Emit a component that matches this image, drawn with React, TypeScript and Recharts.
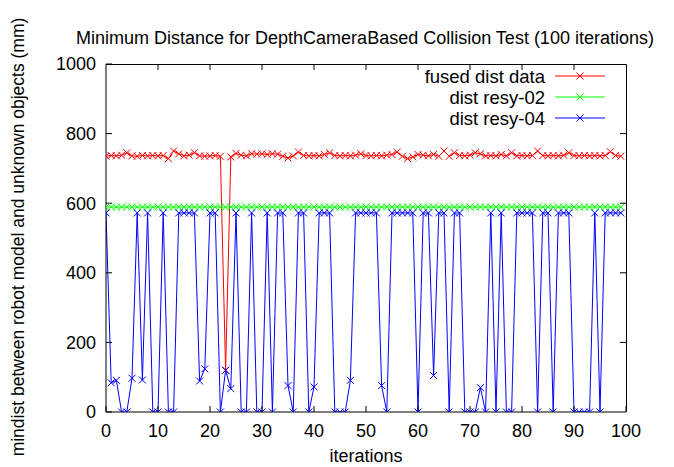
import React from 'react';
import { LineChart, Line, XAxis, YAxis } from 'recharts';

const fusedDist = [
  735, 737, 736, 738, 745, 736, 735, 737, 736, 737,
  736, 737, 728, 750, 742, 736, 738, 745, 736, 735,
  736, 737, 735, 120, 733, 743, 738, 736, 742, 741,
  742, 740, 742, 741, 735, 730, 736, 747, 737, 736,
  737, 736, 740, 745, 737, 736, 737, 736, 738, 742,
  737, 736, 737, 736, 738, 740, 747, 735, 728, 733,
  740, 738, 736, 740, 735, 750, 735, 745, 737, 736,
  738, 745, 742, 736, 737, 736, 740, 736, 745, 736,
  737, 736, 737, 750, 737, 736, 737, 736, 738, 745,
  737, 736, 737, 736, 737, 736, 737, 748, 737, 735,
];

const distResy02 = [
  589, 589, 589, 589, 589, 589, 589, 589, 589, 589,
  589, 589, 589, 589, 589, 589, 589, 589, 589, 589,
  589, 589, 589, 589, 589, 589, 589, 589, 589, 589,
  589, 589, 589, 589, 589, 589, 589, 589, 589, 589,
  589, 589, 589, 589, 589, 589, 589, 589, 589, 589,
  589, 589, 589, 589, 589, 589, 589, 589, 589, 589,
  589, 589, 589, 589, 589, 589, 589, 589, 589, 589,
  589, 589, 589, 589, 589, 589, 589, 589, 589, 589,
  589, 589, 589, 589, 589, 589, 589, 589, 589, 589,
  589, 589, 589, 589, 589, 589, 589, 589, 589, 589,
];

const distResy04 = [
  572, 84, 91, 0, 0, 97, 572, 92, 572, 0,
  0, 572, 0, 0, 572, 572, 572, 572, 89, 124,
  572, 572, 0, 120, 67, 572, 0, 0, 572, 0,
  0, 572, 0, 572, 572, 76, 0, 572, 572, 0,
  72, 572, 572, 572, 0, 0, 0, 91, 572, 572,
  572, 572, 572, 76, 0, 572, 572, 572, 572, 572,
  0, 572, 572, 105, 572, 572, 0, 572, 572, 0,
  0, 0, 70, 0, 572, 0, 572, 0, 0, 572,
  572, 572, 572, 0, 572, 572, 0, 572, 572, 572,
  0, 0, 0, 0, 572, 0, 572, 572, 572, 572,
];

const xTicks = [0, 10, 20, 30, 40, 50, 60, 70, 80, 90, 100];
const yTicks = [0, 200, 400, 600, 800, 1000];
const xDomain = [0, 100];
const yDomain = [0, 1000];

const seriesNames = ['fused dist data', 'dist resy-02', 'dist resy-04'];
const seriesColors = ['#ff0000', '#00ff00', '#0000ff'];

const titleText = 'Minimum Distance for DepthCameraBased Collision Test (100 iterations)';
const xLabelText = 'iterations';
const yLabelText = 'mindist between robot model and unknown objects (mm)';

const data = fusedDist.map((v, i) => ({
  iter: i,
  fused: v,
  r02: distResy02[i],
  r04: distResy04[i],
}));

const FONT = '"Liberation Sans", Arial, Helvetica, sans-serif';

// layout
const CHART_W = 674;
const CHART_H = 467;
const MARGIN = { top: 64, right: 48, bottom: 0, left: 0 };
const Y_AXIS_W = 106;
const X_AXIS_H = 55;
const TICK_LEN = 6;

const plotLeft = MARGIN.left + Y_AXIS_W;
const plotTop = MARGIN.top;
const plotRight = CHART_W - MARGIN.right;
const plotBottom = CHART_H - MARGIN.bottom - X_AXIS_H;

const crossPath = (cx: number, cy: number, r: number) =>
  `M${cx - r},${cy - r}L${cx + r},${cy + r}M${cx - r},${cy + r}L${cx + r},${cy - r}`;

const makeMark = (color: string) => (props: any) => {
  const { cx, cy, index } = props;
  if (cx == null || cy == null) return <g key={`e${index}`} />;
  return (
    <path
      key={`m${index}`}
      d={crossPath(cx, cy, 3.5)}
      stroke={color}
      strokeWidth={1}
      fill="none"
    />
  );
};

// top and right border with mirrored inward ticks
const framePath = (() => {
  const w = plotRight - plotLeft;
  const h = plotBottom - plotTop;
  const parts: string[] = [`M${plotLeft},${plotTop + 0.5}H${plotRight + 0.5}V${plotBottom}`];
  xTicks.slice(1, -1).forEach((t) => {
    const px = plotLeft + ((t - xDomain[0]) / (xDomain[1] - xDomain[0])) * w;
    parts.push(`M${px},${plotTop}V${plotTop + TICK_LEN}`);
  });
  yTicks.slice(1, -1).forEach((t) => {
    const py = plotBottom - ((t - yDomain[0]) / (yDomain[1] - yDomain[0])) * h;
    parts.push(`M${plotRight},${py}H${plotRight - TICK_LEN}`);
  });
  return parts.join('');
})();

const tickStyle = { fontFamily: FONT, fontSize: 18, fill: '#000' };

export default function App() {
  return (
    <div style={{ position: 'absolute', left: 0, top: 0, width: CHART_W, height: CHART_H, background: '#fff' }}>
      <LineChart width={CHART_W} height={CHART_H} data={data} margin={MARGIN}>
        <XAxis
          dataKey="iter"
          type="number"
          domain={xDomain}
          ticks={xTicks}
          allowDataOverflow
          height={X_AXIS_H}
          tickSize={-TICK_LEN}
          tickMargin={18}
          stroke="#000"
          tick={tickStyle}
          interval={0}
        />
        <YAxis
          type="number"
          domain={yDomain}
          ticks={yTicks}
          allowDataOverflow
          width={Y_AXIS_W}
          tickSize={-TICK_LEN}
          tickMargin={16}
          stroke="#000"
          tick={tickStyle}
          interval={0}
        />
        <Line
          type="linear"
          dataKey="fused"
          name={seriesNames[0]}
          stroke={seriesColors[0]}
          strokeWidth={1}
          dot={makeMark(seriesColors[0])}
          activeDot={false}
          isAnimationActive={false}
        />
        <Line
          type="linear"
          dataKey="r02"
          name={seriesNames[1]}
          stroke={seriesColors[1]}
          strokeWidth={1}
          dot={makeMark(seriesColors[1])}
          activeDot={false}
          isAnimationActive={false}
        />
        <Line
          type="linear"
          dataKey="r04"
          name={seriesNames[2]}
          stroke={seriesColors[2]}
          strokeWidth={1}
          dot={makeMark(seriesColors[2])}
          activeDot={false}
          isAnimationActive={false}
        />
      </LineChart>
      <svg
        width={CHART_W}
        height={CHART_H}
        style={{ position: 'absolute', left: 0, top: 0, pointerEvents: 'none' }}
      >
        <path d={framePath} stroke="#000" strokeWidth={1} fill="none" />
        <text x={365} y={44} textAnchor="middle" fontFamily={FONT} fontSize={18} fill="#000">
          {titleText}
        </text>
        <text x={366} y={462} textAnchor="middle" fontFamily={FONT} fontSize={18} fill="#000">
          {xLabelText}
        </text>
        <text
          x={0}
          y={0}
          transform="translate(24,237) rotate(-90)"
          textAnchor="middle"
          fontFamily={FONT}
          fontSize={17.5}
          fill="#000"
        >
          {yLabelText}
        </text>
        {seriesNames.map((name, i) => {
          const y = 76 + i * 21;
          return (
            <g key={name}>
              <text
                x={545}
                y={y}
                textAnchor="end"
                dominantBaseline="central"
                fontFamily={FONT}
                fontSize={18.5}
                fill="#000"
              >
                {name}
              </text>
              <line x1={555} y1={y} x2={605} y2={y} stroke={seriesColors[i]} strokeWidth={1} />
              <path d={crossPath(580, y, 3.5)} stroke={seriesColors[i]} strokeWidth={1} fill="none" />
            </g>
          );
        })}
      </svg>
    </div>
  );
}
